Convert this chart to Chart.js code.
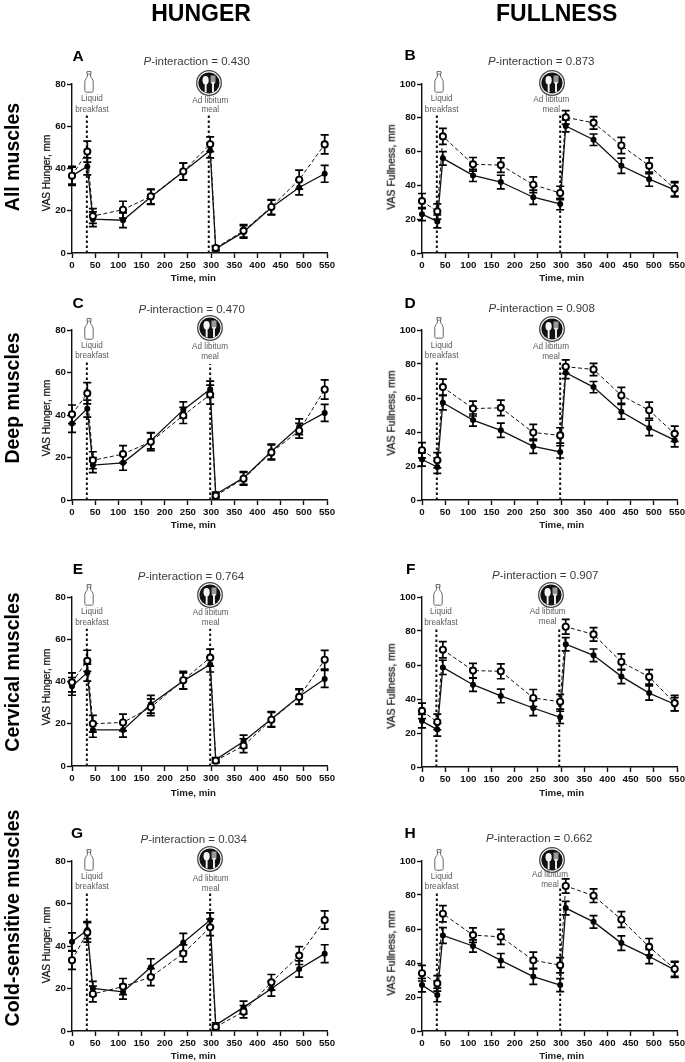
<!DOCTYPE html>
<html>
<head>
<meta charset="utf-8">
<title>Hunger and fullness VAS</title>
<script src="https://cdn.jsdelivr.net/npm/chart.js@4/dist/chart.umd.min.js"></script>
<style>
  html, body { margin: 0; padding: 0; background: #fff; }
  #page { position: relative; width: 685px; height: 1062px; overflow: hidden; font-family: "Liberation Sans", Arial, sans-serif; color: #000; filter: blur(0.45px); }
  #page canvas { position: absolute; }
  .lbl { position: absolute; white-space: nowrap; line-height: 1; }
  .head { font-size: 23px; font-weight: bold; }
  .row { font-size: 19.5px; font-weight: bold; }
  .letter { font-size: 15.5px; font-weight: bold; }
  .pval { font-size: 11.5px; color: #3a3a3a; }
  .note { font-size: 8.2px; color: #5c5c5c; }
  .axis { font-size: 9.7px; font-weight: bold; color: #1a1a1a; }
  .ytitle { font-size: 10px; color: #111; -webkit-text-stroke: 0.25px #111; }
  .ytitle.full { font-size: 10.5px; }
  .icon { position: absolute; }
</style>
</head>
<body>
<div id="page"></div>
<script>
  // Measurement times, same for every panel
  const times = [0, 33, 45, 110, 170, 240, 298, 310, 370, 430, 490, 545];
  const timeTicks = [0, 50, 100, 150, 200, 250, 300, 350, 400, 450, 500, 550];
  const hungerTicks = [0, 20, 40, 60, 80];
  const fullnessTicks = [0, 20, 40, 60, 80, 100];

  // A - all muscles, hunger
  const aOpen = [36.6, 48, 17.5, 20.5, 26.8, 38.6, 51.5, 2.4, 10.5, 21.8, 34.7, 51.4];
  const aOpenErr = [4, 5, 3.5, 4, 3.5, 4, 3.5, 1, 3, 3.5, 4.5, 4.5];
  const aFilled = [36.5, 41, 16, 15.5, 26.5, 38.5, 48.5, 2, 10, 21.5, 31, 37.5];
  const aFilledErr = [4.5, 4, 3.5, 3.5, 3.5, 4, 3.5, 1, 3, 3.5, 3.5, 4];
  // B - all muscles, fullness
  const bOpen = [30.7, 24.6, 69, 52.5, 52, 40.4, 35.5, 80.3, 77, 63.6, 51.6, 38];
  const bOpenErr = [4.5, 4.5, 4.7, 4, 4.3, 4.7, 4, 4, 3.7, 4.8, 4.7, 4.3];
  const bFilled = [23, 18.7, 56, 45.9, 42, 33, 29, 75.2, 67, 51.6, 43.7, 37.4];
  const bFilledErr = [3.8, 3.8, 4, 3.6, 4, 4.2, 3.4, 3.5, 3.4, 4.5, 4.2, 4.2];
  // C - deep muscles, hunger
  const cOpen = [40.3, 50.2, 18.7, 21.6, 27.4, 39.8, 49.6, 2, 10, 22.4, 32.6, 52];
  const cOpenErr = [4.4, 5, 4, 4, 4.2, 3.8, 4.5, 1, 3, 3.5, 3.5, 4.5];
  const cFilled = [36, 43, 16.4, 17.5, 27.9, 42.4, 52.1, 2.7, 10.4, 22.8, 34.5, 41];
  const cFilledErr = [4.2, 4, 3.5, 3.5, 3.8, 3.8, 3.8, 1, 3, 3.5, 3.7, 4];
  // D - deep muscles, fullness
  const dOpen = [29.3, 23.4, 66.4, 53.8, 54.2, 39.7, 38, 78.4, 76.8, 61.5, 52.8, 38.9];
  const dOpenErr = [4.5, 4.5, 4.7, 4.4, 4.6, 4.8, 4.5, 4, 3.6, 4.7, 4.8, 4.5];
  const dFilled = [23.8, 19.4, 57.2, 47, 41, 31.6, 28.3, 74.9, 66.4, 51.9, 42.4, 35.2];
  const dFilledErr = [3.9, 3.7, 4.2, 3.6, 4.2, 4.2, 3.6, 3.5, 3.3, 4.3, 4.5, 4];
  // E - cervical muscles, hunger
  const eOpen = [39.6, 49.8, 20, 20.6, 27.8, 40.6, 51.3, 2.5, 9.6, 21.9, 32.7, 50.3];
  const eOpenErr = [4.5, 5, 4, 4, 4, 4.2, 4, 1, 3.3, 3.5, 3.5, 4.4];
  const eFilled = [37.7, 44.2, 17.1, 17.1, 29.2, 40.3, 48.1, 3, 11.6, 22.2, 32.9, 41.2];
  const eFilledErr = [4.2, 4, 3.5, 3.4, 4.2, 3.8, 3.6, 1, 3, 3.6, 3.6, 4];
  // F - cervical muscles, fullness
  const fOpen = [33, 26.5, 69, 56.7, 56.3, 40.6, 38.4, 82.5, 78, 61.8, 53, 37.6];
  const fOpenErr = [4.6, 4.6, 4.8, 4.3, 4.4, 5, 4.3, 4.3, 4, 4.7, 4.3, 4.5];
  const fFilled = [27, 22, 58.6, 48.4, 41.8, 34.7, 29.2, 72.2, 65.7, 53.3, 43.5, 36.9];
  const fFilledErr = [4, 3.8, 4.2, 3.9, 4, 4.5, 3.6, 3.9, 3.7, 4.2, 4.2, 3.9];
  // G - cold-sensitive muscles, hunger
  const gOpen = [33.3, 46.4, 17.4, 20.9, 25.4, 36.5, 48.8, 1.9, 9.1, 22.9, 35.5, 52.2];
  const gOpenErr = [4.3, 4.6, 3.7, 3.8, 4, 4, 3.9, 1, 2.9, 3.7, 4.2, 4.3];
  const gFilled = [42, 47.5, 20, 18.4, 30, 41.7, 52.2, 2.8, 11.1, 19.9, 29.2, 36.4];
  const gFilledErr = [4.2, 4, 3.4, 3.4, 4, 4.2, 3.4, 1, 3, 3.5, 3.8, 4.2];
  // H - cold-sensitive muscles, fullness
  const hOpen = [34, 28, 69, 56.4, 55.4, 41.6, 38.7, 85.3, 79.6, 65.6, 49.5, 36.5];
  const hOpenErr = [4.6, 4.6, 4.8, 4.3, 4.4, 4.8, 4.5, 4.2, 4, 4.6, 4.9, 4.4];
  const hFilled = [27, 21.2, 56.2, 50, 41.5, 32, 27, 72.3, 64.2, 51.7, 43.8, 36];
  const hFilledErr = [4, 4, 4.6, 3.6, 4.1, 4.6, 3.8, 4, 3.7, 4.3, 4.2, 4.5];

  const Y_AXIS_W = 36, X_AXIS_H = 24, PAD_TOP = 8, PAD_RIGHT = 14;

  // Where each panel and its annotations sit on the page
  const panels = [
    { letter: 'A', p: '0.430', open: aOpen, openErr: aOpenErr, filled: aFilled, filledErr: aFilledErr,
      x0: 72, x1: 327, top: 84, bottom: 253, lx: 73, ly: 55.7, px: 196.7, py: 62.3, meals: [[32, 65.5], [295, 65.5]],
      bottle: [89, 71.7], plate: [209, 83.3], liquid: [92, 99, 110], adlib: [210.3, 100.7, 110.3], ytitle: 172.5, xtitle: 277.7 },
    { letter: 'B', p: '0.873', open: bOpen, openErr: bOpenErr, filled: bFilled, filledErr: bFilledErr,
      x0: 422, x1: 677, top: 84, bottom: 253, lx: 405, ly: 55, px: 541.3, py: 62.3, meals: [[32, 82], [298, 82]],
      bottle: [439, 71.7], plate: [551.7, 82.5], liquid: [441.7, 99, 110], adlib: [551.3, 100, 110], ytitle: 166.7, xtitle: 277.7 },
    { letter: 'C', p: '0.470', open: cOpen, openErr: cOpenErr, filled: cFilled, filledErr: cFilledErr,
      x0: 72, x1: 327, top: 330, bottom: 500, lx: 73, ly: 302.7, px: 191.7, py: 310, meals: [[32, 65], [298, 64]],
      bottle: [89, 318.3], plate: [210, 328.3], liquid: [92, 346, 356], adlib: [210, 346.7, 356.7], ytitle: 418.3, xtitle: 525 },
    { letter: 'D', p: '0.908', open: dOpen, openErr: dOpenErr, filled: dFilled, filledErr: dFilledErr,
      x0: 422, x1: 677, top: 330, bottom: 500, lx: 405, ly: 302.7, px: 541.7, py: 309, meals: [[32, 81], [298, 82]],
      bottle: [439, 317.7], plate: [551.7, 329], liquid: [441.7, 345.7, 356], adlib: [551, 346.7, 356.7], ytitle: 413, xtitle: 525 },
    { letter: 'E', p: '0.764', open: eOpen, openErr: eOpenErr, filled: eFilled, filledErr: eFilledErr,
      x0: 72, x1: 327, top: 597, bottom: 766, lx: 73, ly: 569.3, px: 191, py: 576.7, meals: [[32, 65], [298, 65]],
      bottle: [89, 584.3], plate: [210, 595], liquid: [92, 611.7, 622.7], adlib: [210.7, 613.3, 623], ytitle: 687, xtitle: 792.7 },
    { letter: 'F', p: '0.907', open: fOpen, openErr: fOpenErr, filled: fFilled, filledErr: fFilledErr,
      x0: 422, x1: 677, top: 597, bottom: 767, lx: 405.7, ly: 569.3, px: 545.3, py: 576, meals: [[31, 82], [296, 82]],
      bottle: [438.3, 584], plate: [551, 595], liquid: [441, 611.7, 622.7], adlib: [547.7, 612, 622], ytitle: 686, xtitle: 792.7 },
    { letter: 'G', p: '0.034', open: gOpen, openErr: gOpenErr, filled: gFilled, filledErr: gFilledErr,
      x0: 72, x1: 327, top: 861, bottom: 1031, lx: 72, ly: 832.7, px: 193.7, py: 840, meals: [[32, 65], [298, 65]],
      bottle: [89, 849], plate: [210, 859.3], liquid: [92, 876.7, 886.7], adlib: [210.7, 879, 889], ytitle: 945, xtitle: 1056 },
    { letter: 'H', p: '0.662', open: hOpen, openErr: hOpenErr, filled: hFilled, filledErr: hFilledErr,
      x0: 422, x1: 677, top: 861, bottom: 1031, lx: 405, ly: 832.7, px: 539.2, py: 839.3, meals: [[32, 82], [298, 84]],
      bottle: [439, 849], plate: [551.7, 860], liquid: [441.7, 877, 887], adlib: [550, 875, 885], ytitle: 953, xtitle: 1056 }
  ];

  const page = document.getElementById('page');

  function addText(text, cx, cy, cls, rotate) {
    const el = document.createElement('div');
    el.className = 'lbl ' + cls;
    if (typeof text === 'string') el.textContent = text; else el.appendChild(text);
    el.style.left = cx + 'px';
    el.style.top = cy + 'px';
    el.style.transform = 'translate(-50%, -50%)' + (rotate ? ' rotate(' + rotate + 'deg)' : '');
    page.appendChild(el);
    return el;
  }

  function addIcon(svg, left, top) {
    const wrap = document.createElement('div');
    wrap.className = 'icon';
    wrap.style.left = left + 'px';
    wrap.style.top = top + 'px';
    wrap.innerHTML = svg;
    page.appendChild(wrap);
  }

  const BOTTLE = '<svg width="10" height="22" viewBox="0 0 10 22" style="display:block">' +
    '<path d="M3 .6h4v2.2h-.4v2.4c0 1.5 2.6 3 2.6 5.4v9c0 1-.6 1.6-1.5 1.6H2.300c-.9 0-1.500-.6-1.500-1.600v-9c0-2.400 2.600-3.900 2.600-5.400V2.800H3z" fill="#fff" stroke="#555" stroke-width=".9"/>' +
    '<path d="M3.200 3.200h3.600" stroke="#555" stroke-width=".7"/></svg>';

  const PLATE = '<svg width="26" height="26" viewBox="0 0 26 26" style="display:block">' +
    '<circle cx="13" cy="13" r="12.300" fill="#fff" stroke="#444" stroke-width="1.300"/>' +
    '<circle cx="13" cy="13" r="10.600" fill="#111"/>' +
    '<ellipse cx="9.600" cy="10.300" rx="3.100" ry="4.200" fill="#f4f4f4"/>' +
    '<rect x="8.700" y="13" width="1.900" height="9.500" fill="#f4f4f4"/>' +
    '<rect x="14.500" y="5.500" width="5" height="6.500" fill="#999"/>' +
    '<path d="M14.500 12h5l-1.500 2.200v8.200h-2v-8.200z" fill="#e8e8e8"/></svg>';

  // Thick dotted markers for the breakfast and the meal
  const mealLines = {
    id: 'mealLines',
    beforeDatasetsDraw(chart, args, opts) {
      const c = chart.ctx, xs = chart.scales.x, ys = chart.scales.y;
      c.save();
      c.strokeStyle = '#111';
      c.lineWidth = 2;
      c.setLineDash([2.5, 2.500]);
      opts.items.forEach(function (m) {
        c.beginPath();
        c.moveTo(xs.getPixelForValue(m[0]), ys.getPixelForValue(0));
        c.lineTo(xs.getPixelForValue(m[0]), ys.getPixelForValue(m[1]));
        c.stroke();
      });
      c.restore();
    }
  };

  // SEM whiskers, read from dataset.errors, drawn under the markers
  const errorBars = {
    id: 'errorBars',
    beforeDatasetsDraw(chart) {
      const c = chart.ctx, xs = chart.scales.x, ys = chart.scales.y;
      c.save();
      c.strokeStyle = '#000';
      c.lineWidth = 1.7;
      chart.data.datasets.forEach(function (ds) {
        ds.data.forEach(function (pt, i) {
          const x = xs.getPixelForValue(pt.x);
          const hi = ys.getPixelForValue(pt.y + ds.errors[i]);
          const lo = ys.getPixelForValue(Math.max(0, pt.y - ds.errors[i]));
          c.beginPath();
          c.moveTo(x, hi); c.lineTo(x, lo);
          c.moveTo(x - 4, hi); c.lineTo(x + 4, hi);
          c.moveTo(x - 4, lo); c.lineTo(x + 4, lo);
          c.stroke();
        });
      });
      c.restore();
    }
  };

  function toPoints(values) {
    return values.map(function (v, i) { return { x: times[i], y: v }; });
  }

  function buildPanel(p) {
    const isFull = p.x0 > 300;
    const canvas = document.createElement('canvas');
    const w = Y_AXIS_W + (p.x1 - p.x0) + PAD_RIGHT;
    const h = PAD_TOP + (p.bottom - p.top) + X_AXIS_H;
    canvas.width = w;
    canvas.height = h;
    canvas.style.width = w + 'px';
    canvas.style.height = h + 'px';
    canvas.style.left = (p.x0 - Y_AXIS_W) + 'px';
    canvas.style.top = (p.top - PAD_TOP) + 'px';
    page.appendChild(canvas);

    const tickFont = { family: '"Liberation Sans", Arial, sans-serif', size: 9.7, weight: 'bold' };
    const axisLine = { color: '#111', width: 1.4 };
    const grid = { drawOnChartArea: false, drawTicks: true, tickLength: 5, tickWidth: 1.4, tickColor: '#111' };

    new Chart(canvas.getContext('2d'), {
      type: 'line',
      data: {
        datasets: [
          {
            label: 'Open', data: toPoints(p.open), errors: p.openErr, clip: false,
            borderColor: '#111', borderWidth: 1, borderDash: [4, 2.500], tension: 0,
            pointRadius: 3.100, pointBorderWidth: 1.900, pointBorderColor: '#000', pointBackgroundColor: '#fff'
          },
          {
            label: 'Filled', data: toPoints(p.filled), errors: p.filledErr, clip: false,
            borderColor: '#111', borderWidth: 1.300, tension: 0,
            pointRadius: 3, pointBorderWidth: 0, pointBackgroundColor: '#000'
          }
        ]
      },
      options: {
        responsive: false,
        animation: false,
        events: [],
        layout: { padding: { left: 0, top: PAD_TOP, right: PAD_RIGHT, bottom: 0 } },
        plugins: {
          legend: { display: false },
          tooltip: { enabled: false },
          mealLines: { items: p.meals }
        },
        scales: {
          x: {
            type: 'linear', min: 0, max: 550,
            afterBuildTicks(s) { s.ticks = timeTicks.map(function (v) { return { value: v }; }); },
            afterFit(s) { s.height = X_AXIS_H; s.paddingLeft = 0; s.paddingRight = 0; },
            border: axisLine, grid: grid,
            ticks: { font: tickFont, color: '#111', padding: 2, maxRotation: 0, autoSkip: false }
          },
          y: {
            type: 'linear', min: 0, max: isFull ? 100 : 80,
            afterBuildTicks(s) { s.ticks = (isFull ? fullnessTicks : hungerTicks).map(function (v) { return { value: v }; }); },
            afterFit(s) { s.width = Y_AXIS_W; s.paddingTop = 0; s.paddingBottom = 0; },
            border: axisLine, grid: grid,
            ticks: { font: tickFont, color: '#111', padding: 1, autoSkip: false }
          }
        }
      },
      plugins: [mealLines, errorBars]
    });

    // annotations around the panel
    addText(p.letter, p.lx + 5, p.ly, 'letter');
    const pv = document.createElement('span');
    pv.innerHTML = '<i>P</i>-interaction = ' + p.p;
    addText(pv, p.px, p.py, 'pval');
    addIcon(BOTTLE, p.bottle[0] - 5, p.bottle[1] - 0.5);
    addIcon(PLATE, p.plate[0] - 13, p.plate[1] - 13);
    addText('Liquid', p.liquid[0], p.liquid[1], 'note');
    addText('breakfast', p.liquid[0], p.liquid[2], 'note');
    addText('Ad libitum', p.adlib[0], p.adlib[1], 'note');
    addText('meal', p.adlib[0], p.adlib[2], 'note');
    addText(isFull ? 'VAS Fullness, mm' : 'VAS Hunger, mm', isFull ? 391 : 47.3, p.ytitle, isFull ? 'ytitle full' : 'ytitle', -90);
    addText('Time, min', isFull ? 561.7 : 193.4, p.xtitle, 'axis');
  }

  panels.forEach(buildPanel);

  addText('HUNGER', 201, 13, 'head');
  addText('FULLNESS', 556.7, 13, 'head');
  addText('All muscles', 13.2, 156.7, 'row', -90);
  addText('Deep muscles', 13.2, 397.5, 'row', -90);
  addText('Cervical muscles', 13.2, 671.7, 'row', -90);
  addText('Cold-sensitive muscles', 13.2, 918, 'row', -90);
</script>
</body>
</html>
